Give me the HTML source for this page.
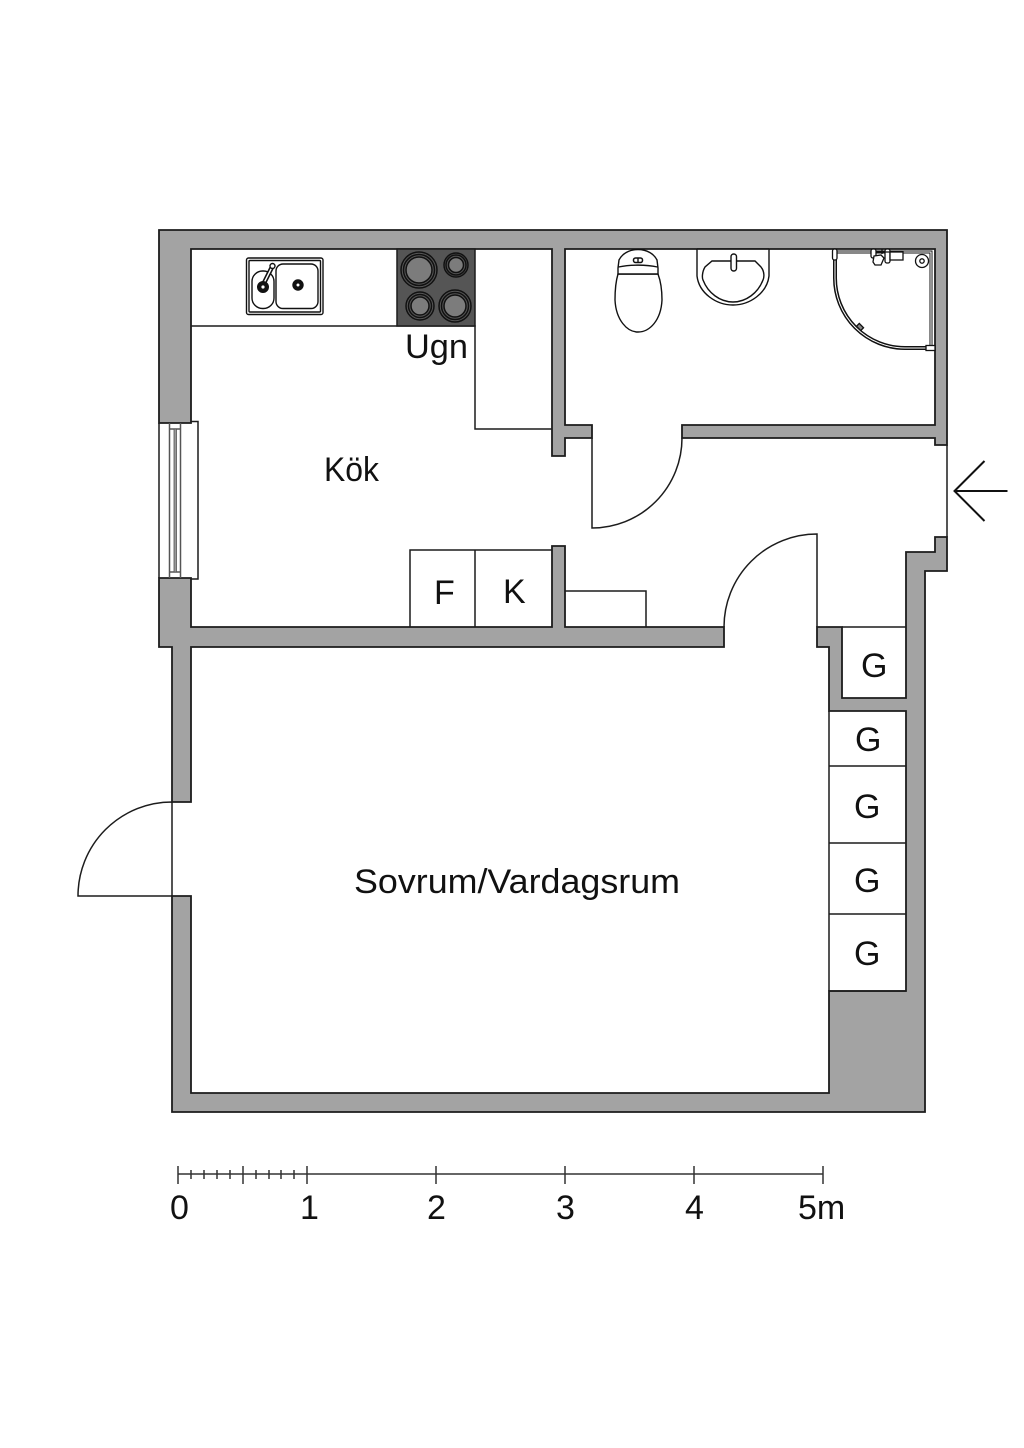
<!DOCTYPE html>
<html><head><meta charset="utf-8"><style>
html,body{margin:0;padding:0;background:#fff}
svg{display:block}
text{font-family:"Liberation Sans",sans-serif;fill:#111;font-size:34px}
</style></head><body>
<svg width="1024" height="1448" viewBox="0 0 1024 1448" xmlns="http://www.w3.org/2000/svg">
<rect width="1024" height="1448" fill="#fff"/>
<!-- walls -->
<g fill="#a3a3a3" stroke="#1c1c1c" stroke-width="1.800" stroke-linejoin="miter">
<path d="M159 230H947V445H935V438H682V425H935V249H565V425H592V438H565V456H552V249H191V423H159Z"/>
<path d="M159 578H191V627H552V546H565V627H724V647H191V802H172V647H159Z"/>
<path d="M817 627V647H829V711H906V991H829V1093H191V896H172V1112H925V571H947V537H935V552H906V698H842V627Z"/>
</g>
<g fill="none" stroke="#1c1c1c" stroke-width="1.500">
<!-- counters -->
<path d="M191 326H475V429H552"/>
<path d="M410 627V550H552M475 550V627"/>
<path d="M565 591H646V627"/>
<!-- wardrobes -->
<path d="M842 627H906"/>
<path d="M829 711V991M829 766H906M829 843H906M829 914H906M829 991H906"/>
<!-- doors -->
<path d="M592 438V528A90 90 0 0 0 682 438"/>
<path d="M817 627V534A93 93 0 0 0 724 627"/>
<path d="M947 445V537"/>
<path d="M172 802V896H78A94 94 0 0 1 172 802"/>
<!-- window -->
<path d="M191 421.500H198V579H191"/>
<path d="M159 423V578"/>
<path d="M169.500 423V578M180.500 423V578M169.500 429H180.500M169.500 572H180.500" stroke="#555"/>
</g>
<rect x="174" y="429" width="2.500" height="143" fill="#999" stroke="#555" stroke-width=".8"/>
<!-- hob -->
<rect x="397" y="249" width="78" height="77" fill="#555" stroke="#1c1c1c" stroke-width="1.500"/>
<g stroke="#111" stroke-width="1.500" fill="#555">
<circle cx="419" cy="270" r="18"/><circle cx="419" cy="270" r="15.500"/><circle cx="419" cy="270" r="13" fill="#7c7c7c"/>
<circle cx="456" cy="265" r="12"/><circle cx="456" cy="265" r="10"/><circle cx="456" cy="265" r="7.500" fill="#7c7c7c"/>
<circle cx="420" cy="306" r="14"/><circle cx="420" cy="306" r="11.500"/><circle cx="420" cy="306" r="9" fill="#7c7c7c"/>
<circle cx="455" cy="306" r="16"/><circle cx="455" cy="306" r="13.500"/><circle cx="455" cy="306" r="11" fill="#7c7c7c"/>
</g>
<!-- sink -->
<g fill="#fff" stroke="#111" stroke-width="1.400">
<rect x="246.500" y="258" width="76.500" height="56.500" rx="2"/>
<rect x="249" y="260.500" width="71.500" height="51.500" rx="1"/>
<rect x="252" y="271" width="22" height="37.500" rx="10.500"/>
<rect x="276" y="264" width="42" height="44.500" rx="7"/>
<circle cx="298" cy="285" r="3.600" stroke-width="4.200"/>
<path d="M263 285L272 267" stroke-width="4.600" fill="none"/>
<path d="M263 285L272 267" stroke="#fff" stroke-width="1.400" fill="none"/>
<circle cx="263" cy="287" r="3.800" stroke-width="4.400"/>
<circle cx="272.500" cy="266" r="2.500"/>
</g>
<!-- toilet -->
<g fill="#fff" stroke="#111" stroke-width="1.400">
<path d="M618 274C615 284 615 294 615 300C616 320 627 332 638 332C650 332 661 320 662 300C662 292 661 282 658 274Z"/>
<path d="M618 274V268L619 260C622 254 629 249.500 638 249.500C647 249.500 654 254 657 260L658 268V274Z"/>
<path d="M618.500 267C630 264.500 646 264.500 657.500 267"/>
<rect x="633.500" y="258" width="9" height="4.500" rx="2" stroke-width="1.500"/>
<path d="M638 258V262.500"/>
</g>
<!-- basin -->
<path d="M697 249V276C699 293 716 305 733 305C750 305 767 293 769 276V249" fill="#fff" stroke="#111" stroke-width="1.400"/>
<g fill="#fff" stroke="#111" stroke-width="1.400">
<path d="M712 261H755L761 267C765 272 764 278 763 280C758 293 746 302 733 302C720 302 708 293 703 280C702 278 702 272 705 267Z"/>
<rect x="731" y="254" width="5.500" height="17" rx="2.700"/>
</g>
<path d="M697 249H769" stroke="#1c1c1c" stroke-width="1.800"/>
<!-- shower -->
<g fill="none">
<path d="M835 252V278A70 70 0 0 0 905 348H933" stroke="#111" stroke-width="4"/>
<path d="M835 252V278A70 70 0 0 0 905 348H933" stroke="#fff" stroke-width="1"/>
<path d="M835 252H931V346" stroke="#111" stroke-width="3"/>
<path d="M835 252H931V346" stroke="#fff" stroke-width="1.100"/>
</g>
<g fill="#fff" stroke="#111" stroke-width="1.300">
<rect x="832.500" y="249" width="4.500" height="11" rx="2"/>
<rect x="871" y="249" width="5" height="9" rx="2"/>
<path d="M874 256L881 255L884 258L881 265H875L873 262Z"/>
<rect x="885" y="249" width="5" height="14" rx="2"/>
<rect x="890" y="252" width="13" height="8"/>
<path d="M876 252H890M882 249V254"/>
<circle cx="922" cy="261" r="6.500"/>
<circle cx="922" cy="261" r="2.200"/>
<rect x="926" y="345.500" width="9" height="5"/>
<rect x="857" y="325" width="6" height="4" transform="rotate(45 860 327)" fill="#888"/>
</g>
<!-- arrow -->
<path d="M1007.500 491H955M984.500 461L954.500 491L984.500 521" fill="none" stroke="#111" stroke-width="2"/>
<!-- labels -->
<text x="405" y="358" textLength="63" lengthAdjust="spacingAndGlyphs">Ugn</text>
<text x="324" y="481" textLength="55" lengthAdjust="spacingAndGlyphs">Kök</text>
<text x="354" y="893" textLength="326" lengthAdjust="spacingAndGlyphs">Sovrum/Vardagsrum</text>
<text x="434" y="604">F</text>
<text x="503" y="603">K</text>
<text x="861" y="677">G</text>
<text x="855" y="751">G</text>
<text x="854" y="818">G</text>
<text x="854" y="892">G</text>
<text x="854" y="965">G</text>
<!-- scale -->
<g stroke="#333" stroke-width="1.500" fill="none">
<path d="M178 1174H823"/>
<path d="M178 1166V1184M243 1166V1184M307 1166V1184M436 1166V1184M565 1166V1184M694 1166V1184M823 1166V1184"/>
<path d="M191 1170V1179M204 1170V1179M217 1170V1179M230 1170V1179M256 1170V1179M269 1170V1179M281 1170V1179M294 1170V1179"/>
</g>
<text x="170" y="1219">0</text>
<text x="300" y="1219">1</text>
<text x="427" y="1219">2</text>
<text x="556" y="1219">3</text>
<text x="685" y="1219">4</text>
<text x="798" y="1219">5m</text>
</svg>
</body></html>
